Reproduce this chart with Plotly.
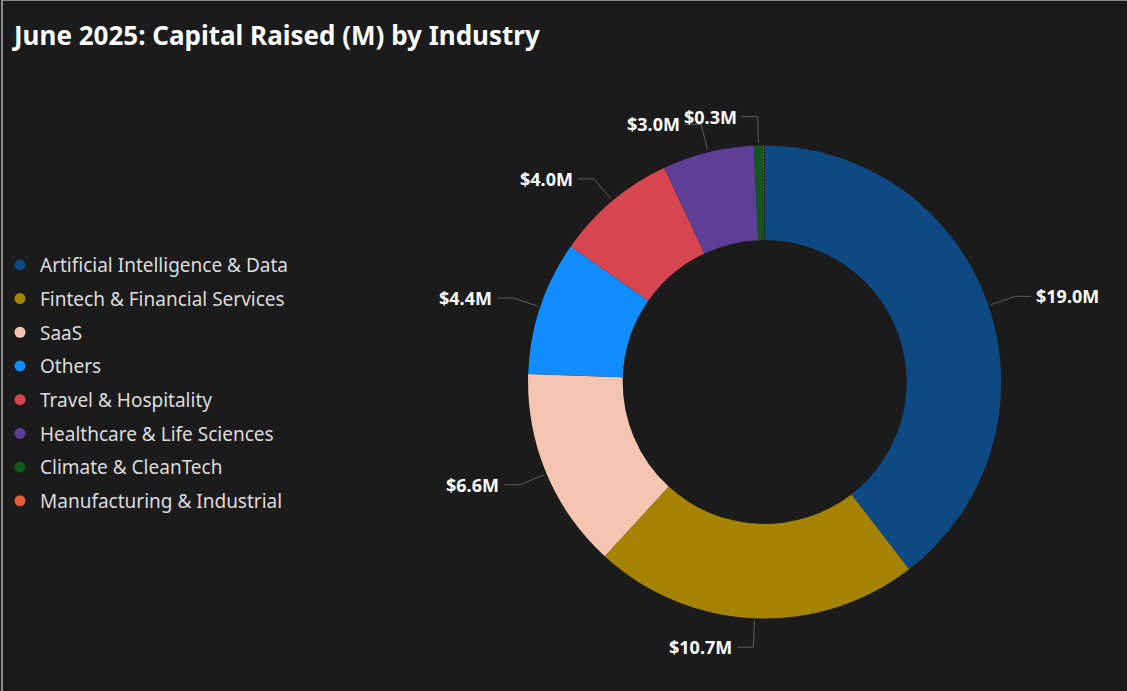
import math
import plotly.graph_objects as go

industries = [
    "Artificial Intelligence & Data",
    "Fintech & Financial Services",
    "SaaS",
    "Others",
    "Travel & Hospitality",
    "Healthcare & Life Sciences",
    "Climate & CleanTech",
    "Manufacturing & Industrial",
]
capital_m = [19.0, 10.7, 6.6, 4.4, 4.0, 3.0, 0.3, 0.05]
show_label = [True, True, True, True, True, True, True, False]
colors = ["#0D4A83", "#A38300", "#F4C5B1", "#118DFF", "#D64550", "#5D3F98", "#0F5A1A", "#E05C3C"]

W, H = 1127, 691
CX, CY, R = 764, 382, 237
BG = "#1B1B1B"

def paper(x, y):
    return x / W, 1 - y / H

fig = go.Figure()
fig.add_trace(go.Pie(
    labels=industries,
    values=capital_m,
    hole=0.6,
    sort=False,
    direction="clockwise",
    rotation=0,
    textinfo="none",
    hoverinfo="label+value",
    showlegend=False,
    marker=dict(colors=colors, line=dict(width=0),
                pattern=dict(shape=[""] * 7 + ["."], fgcolor="#B5603A", size=3, solidity=0.3)),
    domain=dict(x=[(CX - R) / W, (CX + R) / W], y=[1 - (CY + R) / H, 1 - (CY - R) / H]),
))

# legend entries with circular markers
for name, c in zip(industries, colors):
    fig.add_trace(go.Scatter(
        x=[None], y=[None], mode="markers", name=name,
        marker=dict(symbol="circle", size=11, color=c),
        legendgroup=name,
    ))

# data labels with leader lines, computed from values
total = sum(capital_m)
cum = 0.0
shapes = []
annotations = []
for v, lab in zip(capital_m, show_label):
    mid = (cum + v / 2) / total * 2 * math.pi
    cum += v
    if not lab:
        continue
    sx, sy = math.sin(mid), -math.cos(mid)
    p0 = (CX + R * 1.01 * sx, CY + R * 1.01 * sy)
    p1 = (CX + R * 1.12 * sx, CY + R * 1.12 * sy)
    side = 1 if sx >= 0 else -1
    p2 = (p1[0] + side * 16, p1[1])
    for a, b in ((p0, p1), (p1, p2)):
        x0, y0 = paper(*a)
        x1, y1 = paper(*b)
        shapes.append(dict(type="line", xref="paper", yref="paper", x0=x0, y0=y0, x1=x1, y1=y1,
                           line=dict(color="#5E5E5E", width=1)))
    tx, ty = paper(p2[0] + side * 3, p2[1])
    annotations.append(dict(
        x=tx, y=ty, xref="paper", yref="paper", showarrow=False,
        text=f"<b>${v:.1f}M</b>", xanchor="left" if side > 0 else "right", yanchor="middle",
        font=dict(family="Noto Sans", size=18, color="#FFFFFF"),
    ))

# frame edges
shapes.append(dict(type="line", xref="paper", yref="paper", x0=0, y0=1, x1=1, y1=1,
                   line=dict(color="#8A8A8A", width=2)))
shapes.append(dict(type="line", xref="paper", yref="paper", x0=0, y0=0, x1=0, y1=1,
                   line=dict(color="#8A8A8A", width=2)))

fig.update_layout(
    width=W, height=H,
    margin=dict(l=0, r=0, t=0, b=0),
    paper_bgcolor=BG, plot_bgcolor=BG,
    title=dict(text="<b>June 2025: Capital Raised (M) by Industry</b>", x=14 / W, xanchor="left",
               y=1 - 36 / H, yanchor="middle",
               font=dict(family="Noto Sans", size=26, color="#FFFFFF")),
    xaxis=dict(visible=False), yaxis=dict(visible=False),
    legend=dict(x=-2 / W, y=1 - 246 / H, xanchor="left", yanchor="top",
                font=dict(family="Noto Sans", size=19, color="#DCDCDC"),
                bgcolor="rgba(0,0,0,0)", tracegroupgap=6, itemwidth=30),
    shapes=shapes,
    annotations=annotations,
)

fig.write_html("out.html", config={"displayModeBar": False},
               post_script="document.body.style.margin='0';document.body.style.background='#1B1B1B';")
